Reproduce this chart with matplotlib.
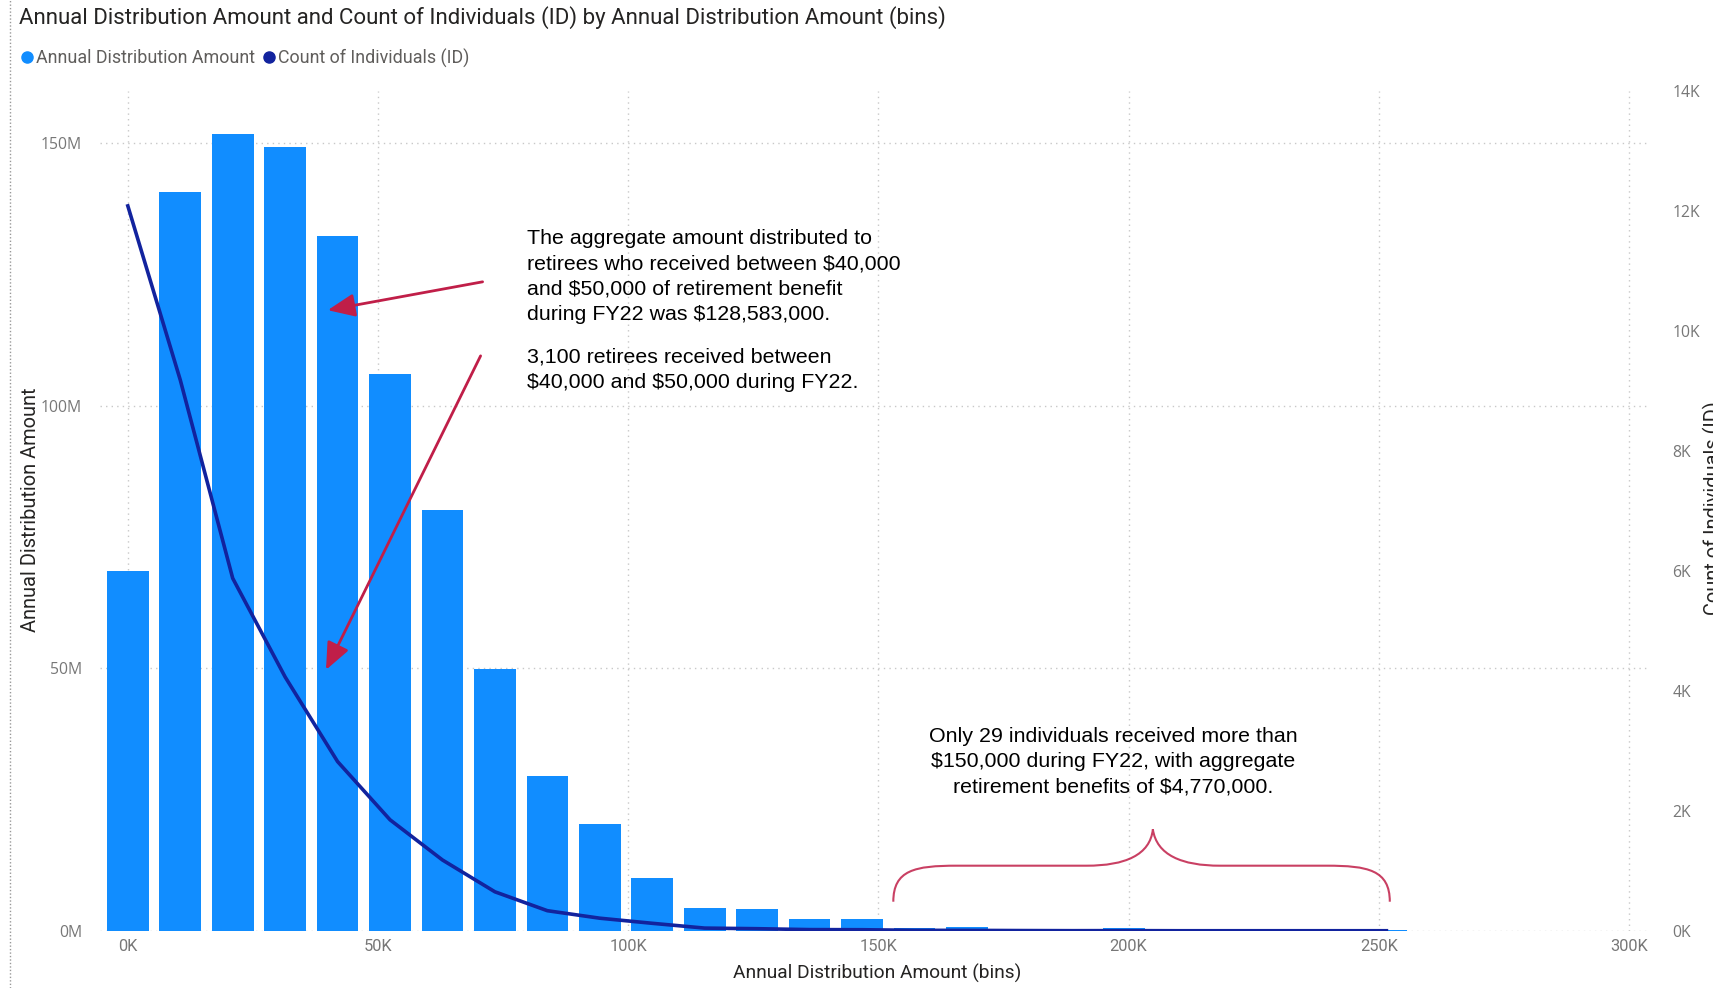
import numpy as np
import matplotlib
matplotlib.use("Agg")
from matplotlib import pyplot as plt
from matplotlib.lines import Line2D
from matplotlib.path import Path
from matplotlib.patches import PathPatch

plt.rcParams["text.parse_math"] = False

# bin start of each Annual Distribution Amount bin ($)
bin_starts = [0, 10480, 20960, 31440, 41920, 52400, 62880, 73360, 83840, 94320,
              104800, 115280, 125760, 136240, 146720, 157200, 167680, 178160,
              188640, 199120, 209600, 220080, 230560, 241040, 251520]
# aggregate amount per bin ($M)
amount_m = [68.5, 140.7, 151.7, 149.2, 132.3, 106.0, 80.1, 49.9, 29.5, 20.3,
            10.1, 4.4, 4.2, 2.3, 2.3, 0.55, 0.65, 0.4, 0.1, 0.5,
            0.05, 0.05, 0.0, 0.05, 0.15]
# count of individuals per bin
counts = [12080, 9180, 5875, 4230, 2820, 1850, 1180, 650, 335, 210,
          125, 45, 35, 20, 18, 8, 7, 4, 2, 3, 1, 1, 1, 1, 1]

x_ticks = [0, 50000, 100000, 150000, 200000, 250000, 300000]
x_labels = ["0K", "50K", "100K", "150K", "200K", "250K", "300K"]
left_ticks = [0, 50e6, 100e6, 150e6]
left_labels = ["0M", "50M", "100M", "150M"]
right_ticks = [0, 2000, 4000, 6000, 8000, 10000, 12000, 14000]
right_labels = ["0K", "2K", "4K", "6K", "8K", "10K", "12K", "14K"]

BAR = "#118DFF"
LINE = "#12239E"
RED = "#C01E48"
GRID = "#C8C8C8"
TICK = "#777777"
DARK = "#252423"

W, H = 1713, 988
fig = plt.figure(figsize=(W / 100, H / 100), dpi=100)
ax = fig.add_axes([100 / W, 1 - 930.8 / H, 1550 / W, 840.1 / H])

amounts = np.array(amount_m) * 1e6
ax.bar(bin_starts, amounts, width=8330, color=BAR, zorder=2)

ax.set_xlim(-5560, 304200)
ax.set_ylim(0, 160e6)
ax.set_xticks(x_ticks, x_labels)
ax.set_yticks(left_ticks, left_labels)
ax.grid(True, color=GRID, linestyle=(0, (1, 3)), linewidth=1)
ax.set_axisbelow(True)
for s in ax.spines.values():
    s.set_visible(False)
ax.tick_params(axis="x", length=0, pad=6, labelcolor=TICK, labelsize=11.8)
ax.tick_params(axis="y", length=0, pad=13, labelcolor=TICK, labelsize=11.3)
for lab in ax.get_xticklabels():
    lab.set_family("Roboto")
for lab in ax.get_yticklabels():
    lab.set_family("Open Sans")

ax2 = ax.twinx()
ax2.plot(bin_starts, counts, color=LINE, linewidth=2.6, solid_joinstyle="round", zorder=3)
ax2.set_ylim(0, 14000)
ax2.set_yticks(right_ticks, right_labels)
ax2.tick_params(axis="y", length=0, pad=16, labelcolor=TICK, labelsize=11.3)
for lab in ax2.get_yticklabels():
    lab.set_family("Open Sans")
for s in ax2.spines.values():
    s.set_visible(False)

# annotations
arrow = dict(arrowstyle="-|>,head_length=0.75,head_width=0.32", color=RED, lw=2,
             mutation_scale=22, shrinkA=0, shrinkB=0)
ax2.annotate("", xy=(39950, 118.2 / 160 * 14000), xytext=(70900, 123.6 / 160 * 14000),
             arrowprops=arrow, zorder=5)
ax2.annotate("", xy=(39600, 49.7 / 160 * 14000), xytext=(70500, 109.5 / 160 * 14000),
             arrowprops=arrow, zorder=5)

note_font = dict(family="Liberation Sans", fontsize=15.4, color="black", linespacing=1.42)
ax.text(79800, 124.6e6,
        "The aggregate amount distributed to\nretirees who received between $40,000\n"
        "and $50,000 of retirement benefit\nduring FY22 was $128,583,000.",
        ha="left", va="center", **note_font)
ax.text(79800, 106.9e6,
        "3,100 retirees received between\n$40,000 and $50,000 during FY22.",
        ha="left", va="center", **note_font)
ax.text(196900, 32.2e6,
        "Only 29 individuals received more than\n$150,000 during FY22, with aggregate\n"
        "retirement benefits of $4,770,000.",
        ha="center", va="center", multialignment="center", **note_font)

# curly brace over the >150K bins
verts = [(152980, 5.54e6),
         (152980, 11.58e6), (157300, 12.4e6), (165650, 12.4e6),
         (191600, 12.4e6),
         (199300, 12.4e6), (204300, 14.44e6), (204850, 19.33e6),
         (205600, 14.44e6), (210600, 12.4e6), (218300, 12.4e6),
         (239600, 12.4e6),
         (247800, 12.4e6), (252200, 11.58e6), (252200, 5.54e6)]
codes = ([Path.MOVETO] + [Path.CURVE4] * 3 + [Path.LINETO] + [Path.CURVE4] * 6
         + [Path.LINETO] + [Path.CURVE4] * 3)
ax.add_patch(PathPatch(Path(verts, codes), facecolor="none", edgecolor=RED,
                       lw=1.5, alpha=0.85, zorder=5))

# titles and labels
fig.text(18.6 / W, 1 - 18 / H,
         "Annual Distribution Amount and Count of Individuals (ID) by Annual Distribution Amount (bins)",
         family="Roboto", fontsize=16, color=DARK, va="center", ha="left")
fig.text(30.6 / W, 1 - 510 / H, "Annual Distribution Amount", rotation=90,
         family="Roboto", fontsize=14.4, color=DARK, va="center", ha="center")
fig.text(877 / W, 1 - 973 / H, "Annual Distribution Amount (bins)",
         family="Roboto", fontsize=13.8, color=DARK, va="center", ha="center")
fig.text(1703 / W, 1 - 508 / H, "Count of Individuals (ID)", rotation=90,
         family="Roboto", fontsize=14.4, color=DARK, va="center", ha="left")

handles = [Line2D([], [], marker="o", linestyle="none", color=BAR, markersize=8),
           Line2D([], [], marker="o", linestyle="none", color=LINE, markersize=8)]
leg = fig.legend(handles, ["Annual Distribution Amount", "Count of Individuals (ID)"],
                 loc="center left", bbox_to_anchor=(18 / W, 1 - 58 / H), ncol=2,
                 frameon=False, handletextpad=0.0, columnspacing=0.3,
                 handlelength=1.0, borderaxespad=0, borderpad=0,
                 prop={"family": "Roboto", "size": 12.9})
for t in leg.get_texts():
    t.set_color("#605E5C")

# dotted border of the visual
fig.add_artist(Line2D([10 / W, 10 / W], [0, 1], transform=fig.transFigure,
                      color="#999999", linestyle=(0, (1, 1.5)), lw=1))

fig.savefig("out.png", dpi=100)
